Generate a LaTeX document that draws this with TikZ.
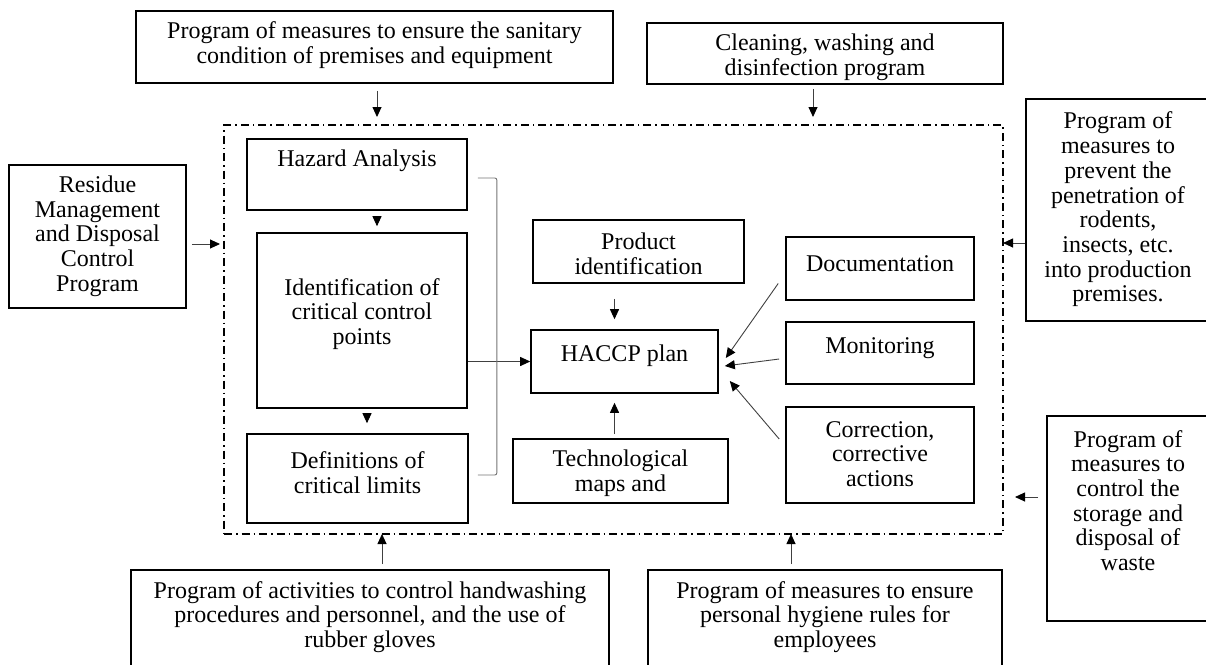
\documentclass[tikz,border=0pt]{standalone}
\usepackage{fontspec}
\setmainfont{Liberation Serif}
\usetikzlibrary{positioning,arrows.meta}

\tikzset{
  box/.style={draw, line width=1.6pt, inner sep=0pt},
  txt/.style={align=center, inner sep=0pt, font=\fontsize{24}{24.7}\selectfont},
  arr/.style={draw=black!75, line width=0.9pt, -{Triangle[length=10pt,width=9pt,color=black]}},
  bracket/.style={draw=black!55, line width=0.9pt, rounded corners=2pt},
  framebox/.style={draw, line width=1.5pt, dash pattern=on 8pt off 4pt on 1.5pt off 4pt, inner sep=0pt}
}

\begin{document}
\begin{tikzpicture}[x=1pt,y=-1pt]
    \useasboundingbox (0,0) rectangle (1206,664);
    \clip (0,0) rectangle (1206,664);

    % HACCP system frame
    \node[framebox, minimum width=779pt, minimum height=409pt] (frame) at (613.5,329.5) {};

    % Programs around the frame
    \node[box, minimum width=477pt, minimum height=72pt] (sanit) at (374.5,47) {};
    \node[txt] (sanittxt) at (374.5,45) {Program of measures to ensure the sanitary\\condition of premises and equipment};
    \node[box, minimum width=356pt, minimum height=61pt] (clean) at (825,53.5) {};
    \node[txt] (cleantxt) at (825,57) {Cleaning, washing and\\disinfection program};
    \node[box, minimum width=177pt, minimum height=143pt] (residue) at (97.5,236.5) {};
    \node[txt] (residuetxt) at (97.5,236) {Residue\\Management\\and Disposal\\Control\\Program};
    \node[box, minimum width=184pt, minimum height=222pt] (rodent) at (1118,210) {};
    \node[txt] (rodenttxt) at (1118,209.5) {Program of\\measures to\\prevent the\\penetration of\\rodents,\\insects, etc.\\into production\\premises.};
    \node[box, minimum width=162pt, minimum height=205pt] (waste) at (1128,518.5) {};
    \node[txt] (wastetxt) at (1128,500.5) {Program of\\measures to\\control the\\storage and\\disposal of\\waste};
    \node[box, minimum width=478pt, minimum height=130pt] (hands) at (370,635) {};
    \node[txt] (handstxt) at (370,617) {Program of activities to control handwashing\\procedures and personnel, and the use of\\rubber gloves};
    \node[box, minimum width=354pt, minimum height=130pt] (hygiene) at (825,635) {};
    \node[txt] (hygienetxt) at (825,617) {Program of measures to ensure\\personal hygiene rules for\\employees};

    % Inside the frame
    \node[box, minimum width=220pt, minimum height=71pt] (hazard) at (357,174.5) {};
    \node[txt] (hazardtxt) at (357,161) {Hazard Analysis};
    \node[box, minimum width=210pt, minimum height=175pt] (ident) at (362,320.5) {};
    \node[txt] (identtxt) at (362,314) {Identification of\\critical control\\points};
    \node[box, minimum width=221pt, minimum height=89pt] (limits) at (357.5,478.5) {};
    \node[txt] (limitstxt) at (357.5,473) {Definitions of\\critical limits};
    \node[box, minimum width=211pt, minimum height=63pt] (product) at (638.5,251.5) {};
    \node[txt] (producttxt) at (638.5,254) {Product\\identification};
    \node[box, minimum width=187pt, minimum height=63pt] (haccp) at (624.5,361.5) {};
    \node[txt] (haccptxt) at (624.5,356) {HACCP plan};
    \node[box, minimum width=215pt, minimum height=64pt] (techmap) at (620.5,471) {};
    \node[txt] (techmaptxt) at (620.5,473.5) {Technological\\maps and};
    \node[box, minimum width=188pt, minimum height=63pt] (docum) at (880,268.5) {};
    \node[txt] (documtxt) at (880,264) {Documentation};
    \node[box, minimum width=188pt, minimum height=62pt] (monit) at (880,353) {};
    \node[txt] (monittxt) at (880,348) {Monitoring};
    \node[box, minimum width=188pt, minimum height=96pt] (correct) at (880,455) {};
    \node[txt] (correcttxt) at (880,454) {Correction,\\corrective\\actions};

    % Entry points on the frame
    \coordinate (inN1) at (377,125);
    \coordinate (inN2) at (813,125);
    \coordinate (inW) at (224,244);
    \coordinate (inE1) at (1003,243);
    \coordinate (inE2) at (1003,497);
    \coordinate (inS1) at (382,534);
    \coordinate (inS2) at (791,534);

    \draw[arr, shorten <=7pt, shorten >=8pt] (sanit.south -| inN1) -- (inN1);
    \draw[arr, shorten <=4pt, shorten >=8pt] (clean.south -| inN2) -- (inN2);
    \draw[arr, shorten <=5pt, shorten >=4pt] (residue.east |- inW) -- (inW);
    \draw[arr] (rodent.west |- inE1) -- (inE1);
    \draw[arr, shorten <=8pt, shorten >=12pt] (waste.west |- inE2) -- (inE2);
    \draw[arr, shorten <=5pt] (hands.north -| inS1) -- (inS1);
    \draw[arr, shorten <=5pt] (hygiene.north -| inS2) -- (inS2);

    % Steps towards the plan
    \coordinate (hz) at ([xshift=20pt]hazard.south);
    \coordinate (id) at ([xshift=5pt]ident.south);
    \draw[arr, shorten <=7pt, shorten >=6pt] (hz) -- (hz |- ident.north);
    \draw[arr, shorten <=6pt, shorten >=10pt] (id) -- (id |- limits.north);
    \draw[arr] (ident.east |- haccp.west) -- (haccp.west);

    \coordinate (br1) at ([xshift=10pt,yshift=-3.5pt]hazard.east);
    \coordinate (br2) at ([xshift=9pt,yshift=3.5pt]limits.east);
    \draw[bracket] (br1) -- ++(19,0) |- (br2);

    \coordinate (hp) at ([xshift=-10pt]haccp.north);
    \coordinate (hq) at ([xshift=-10pt]haccp.south);
    \draw[arr, shorten <=15pt, shorten >=10pt] (product.south -| hp) -- (hp);
    \draw[arr, shorten <=4pt, shorten >=9pt] (techmap.north -| hq) -- (hq);

    \draw[arr] ([xshift=-7pt,yshift=-15pt]docum.west) -- ([xshift=7pt,yshift=3.5pt]haccp.east);
    \draw[arr] ([xshift=-6pt,yshift=-6pt]monit.west) -- ([xshift=6pt,yshift=-4.5pt]haccp.east);
    \draw[arr] ([xshift=-6pt,yshift=16pt]correct.west) -- ([xshift=11pt,yshift=-19.5pt]haccp.east);
\end{tikzpicture}
\end{document}
